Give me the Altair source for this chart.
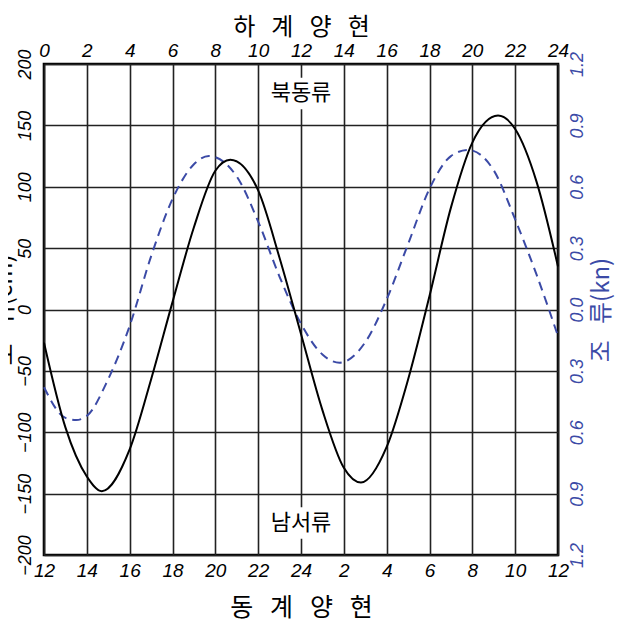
import altair as alt
import pandas as pd

# Tide height (cm), read against the top (summer) hour axis
tide_hours = [0, 1, 2, 2.7, 4, 5, 6, 7, 8, 8.7, 10, 11, 12, 13, 14, 14.8, 16, 17, 18, 19, 20, 21.2, 22, 23, 24]
tide_cm = [-27, -96, -136, -148, -114, -57, 6, 67, 113, 122, 97, 42, -20, -82, -129, -141, -112, -57, 11, 83, 136, 158, 147, 104, 35]

# Tidal current (kn)
cur_hours = [0, 1, 1.5, 2, 3, 4, 5, 6, 7, 7.7, 9, 10, 11, 12, 13, 13.8, 15, 16, 17, 18, 19, 19.8, 21, 22, 23, 24]
cur_kn = [-0.38, -0.53, -0.54, -0.52, -0.34, -0.08, 0.26, 0.54, 0.71, 0.75, 0.65, 0.43, 0.16, -0.07, -0.22, -0.26,
          -0.16, 0.05, 0.32, 0.59, 0.75, 0.78, 0.68, 0.44, 0.17, -0.13]

hour_ticks = list(range(0, 25, 2))
cm_ticks = [-200, -150, -100, -50, 0, 50, 100, 150, 200]
kn_ticks = [-1.2, -0.9, -0.6, -0.3, 0.0, 0.3, 0.6, 0.9, 1.2]

ann_text = ["북동류", "남서류"]
ann_hour = [12, 12]
ann_cm = [176, -174]

SP = " \u00a0\u00a0"
top_title = SP.join(["하", "계", "양", "현"])
bottom_title = SP.join(["동", "계", "양", "현"])
left_title = "조" + SP + "위(cm)"
right_title = "조" + SP + "류(kn)"

BLUE = "#3b4aa6"
LABEL_FONT = "Liberation Sans"
KO_FONT = "Noto Sans CJK KR"

tide_df = pd.DataFrame({"hour": tide_hours, "cm": tide_cm})
cur_df = pd.DataFrame({"hour": cur_hours, "kn": cur_kn})
ann_df = pd.DataFrame({"text": ann_text, "hour": ann_hour, "cm": ann_cm})

xscale = alt.Scale(domain=[0, 24], nice=False, zero=False)
yscale = alt.Scale(domain=[-200, 200], nice=False, zero=False)
kscale = alt.Scale(domain=[-1.2, 1.2], nice=False, zero=False)

top_axis = alt.Axis(
    orient="top", values=hour_ticks, title=top_title,
    titleFont=KO_FONT, titleFontSize=24, titleFontWeight="normal", titleColor="black", titlePadding=2,
    labelFont=LABEL_FONT, labelFontStyle="italic", labelFontSize=19, labelColor="black",
    labelPadding=4, ticks=False, domain=False, grid=True, gridColor="#222222", gridWidth=1.6,
    labelFlush=False, labelOverlap=False,
)
bottom_axis = alt.Axis(
    orient="bottom", values=hour_ticks, title=bottom_title,
    labelExpr="datum.value == 12 ? '24' : toString((datum.value + 12) % 24)",
    titleFont=KO_FONT, titleFontSize=25, titleFontWeight="normal", titleColor="black", titlePadding=15,
    labelFont=LABEL_FONT, labelFontStyle="italic", labelFontSize=19, labelColor="black",
    labelPadding=6, ticks=False, domain=False, grid=False, labelFlush=False, labelOverlap=False,
)
left_axis = alt.Axis(
    orient="left", values=cm_ticks, title=left_title,
    titleFont=KO_FONT, titleFontSize=24, titleFontWeight="normal", titleColor="black", titlePadding=0,
    titleAngle=270,
    labelFont=LABEL_FONT, labelFontStyle="italic", labelFontSize=18, labelColor="black",
    labelAngle=270, labelAlign="center", labelBaseline="bottom", labelPadding=10,
    ticks=False, domain=False, grid=True, gridColor="#222222", gridWidth=1.6,
    labelFlush=False, labelOverlap=False,
)
right_axis = alt.Axis(
    orient="right", values=kn_ticks, title=right_title,
    labelExpr="format(abs(datum.value), '.1f')",
    titleFont=KO_FONT, titleFontSize=24, titleFontWeight="normal", titleColor=BLUE, titlePadding=27,
    titleAngle=270,
    labelFont=LABEL_FONT, labelFontStyle="italic", labelFontSize=18, labelColor=BLUE,
    labelAngle=270, labelAlign="center", labelBaseline="top", labelPadding=10,
    ticks=False, domain=False, grid=False, labelFlush=False, labelOverlap=False,
)

tide_x = alt.X("hour:Q", scale=xscale, axis=top_axis)
tide_y = alt.Y("cm:Q", scale=yscale, axis=left_axis)

tide = alt.Chart(tide_df).mark_line(
    color="black", strokeWidth=2, interpolate="monotone"
).encode(x=tide_x, y=tide_y)

box = alt.Chart(ann_df).mark_point(
    shape="M-2.25,-1.05H2.25V1.05H-2.25Z", filled=True, fill="white", opacity=1, size=900, strokeWidth=0
).encode(x=tide_x, y=tide_y)

label = alt.Chart(ann_df).mark_text(
    font=KO_FONT, fontSize=22, fontWeight="normal", color="black", align="center", baseline="middle"
).encode(x=tide_x, y=tide_y, text="text:N")

current = alt.Chart(cur_df).mark_line(
    color=BLUE, strokeWidth=2, strokeDash=[9, 6], interpolate="monotone"
).encode(
    x=alt.X("hour:Q", scale=xscale, axis=bottom_axis),
    y=alt.Y("kn:Q", scale=kscale, axis=right_axis),
)

left_group = alt.layer(tide, box, label)

chart = alt.layer(current, left_group).resolve_scale(
    y="independent"
).resolve_axis(
    x="independent", y="independent"
).properties(
    width=514, height=491,
    autosize=alt.AutoSizeParams(type="none"),
    padding={"left": 36, "top": 56, "right": 63, "bottom": 68},
).configure_view(
    stroke="black", strokeWidth=2.6
)

chart.save("out.html", embed_options={"renderer": "svg", "actions": False})
